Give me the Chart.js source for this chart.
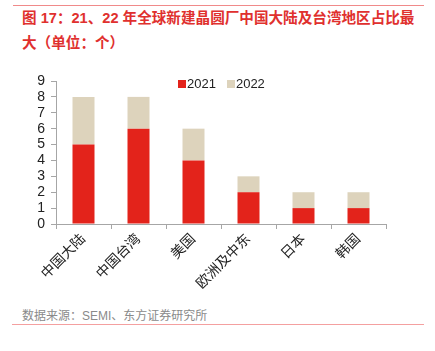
<!DOCTYPE html>
<html><head><meta charset="utf-8">
<script src="https://cdn.jsdelivr.net/npm/chart.js@4"></script>
<style>
html,body{margin:0;padding:0;background:#fff;width:435px;height:351px;overflow:hidden;font-family:"Liberation Sans",Arial,"Noto Sans CJK SC",sans-serif;}
#topline{position:absolute;left:13px;top:5px;width:411px;height:1px;background:#f08a8a;}
#title{position:absolute;left:22px;top:6px;width:410px;color:#e0302e;font-weight:bold;font-size:14.6px;line-height:25px;white-space:nowrap;font-family:"Liberation Sans","Noto Sans CJK SC",sans-serif;}
#wrap{position:absolute;left:0;top:60px;width:435px;height:240px;}
#legend{position:absolute;top:76px;left:178px;font-size:13px;color:#222;white-space:nowrap;}
#legend span.box{display:inline-block;width:8px;height:8px;margin-right:1px;vertical-align:0px;}
#source{position:absolute;left:22px;top:306px;color:#8a8a8a;font-size:12px;font-family:"Liberation Sans","Noto Sans CJK SC",sans-serif;}
#botline{position:absolute;left:12px;top:324px;width:412px;height:1px;background:#f4a0a0;}
</style></head>
<body>
<div id="topline"></div>
<div id="title">图 17：21、22 年全球新建晶圆厂中国大陆及台湾地区占比最<br>大（单位：个）</div>
<div id="wrap"><canvas id="c" width="435" height="240"></canvas></div>
<div id="legend"><span class="box" style="background:#e3231b"></span>2021<span style="display:inline-block;width:11px"></span><span class="box" style="background:#ddd3bc"></span>2022</div>
<div id="source">数据来源：SEMI、东方证券研究所</div>
<div id="botline"></div>
<script>
const categories = ["中国大陆","中国台湾","美国","欧洲及中东","日本","韩国"];
const series2021 = [5,6,4,2,1,1];
const series2022 = [3,2,2,1,1,1];
const seriesNames = ["2021","2022"];
const yTicks = [0,1,2,3,4,5,6,7,8,9];

new Chart(document.getElementById('c'), {
  type: 'bar',
  data: {
    labels: categories,
    datasets: [
      {label: seriesNames[0], data: series2021, backgroundColor: '#e3231b', barPercentage: 0.4, categoryPercentage: 1.0},
      {label: seriesNames[1], data: series2022, backgroundColor: '#ddd3bc', barPercentage: 0.4, categoryPercentage: 1.0}
    ]
  },
  options: {
    responsive: false,
    animation: false,
    layout: {padding: {top: 21, right: 49, left: 0, bottom: 0}},
    plugins: {legend: {display: false}, tooltip: {enabled: false}},
    scales: {
      x: {
        stacked: true,
        grid: {drawOnChartArea: false, drawTicks: true, tickLength: 5, color: '#a6a6a6', offset: true},
        border: {color: '#a6a6a6'},
        ticks: {minRotation: 45, maxRotation: 45, color: '#222', padding: 2, font: {size: 14, family: '"Liberation Sans","Noto Sans CJK SC",sans-serif'}},
        afterFit: s => { s.height = 76; }
      },
      y: {
        stacked: true,
        min: yTicks[0], max: yTicks[yTicks.length - 1],
        afterBuildTicks: s => { s.ticks = yTicks.map(v => ({value: v})); },
        grid: {drawOnChartArea: false, drawTicks: true, tickLength: 5, color: '#a6a6a6'},
        border: {color: '#a6a6a6'},
        ticks: {stepSize: 1, autoSkip: false, color: '#222', padding: 6, font: {size: 14, family: '"Liberation Sans",Arial,sans-serif'}},
        afterFit: s => { s.width = 56; }
      }
    }
  }
});
</script>
</body></html>
